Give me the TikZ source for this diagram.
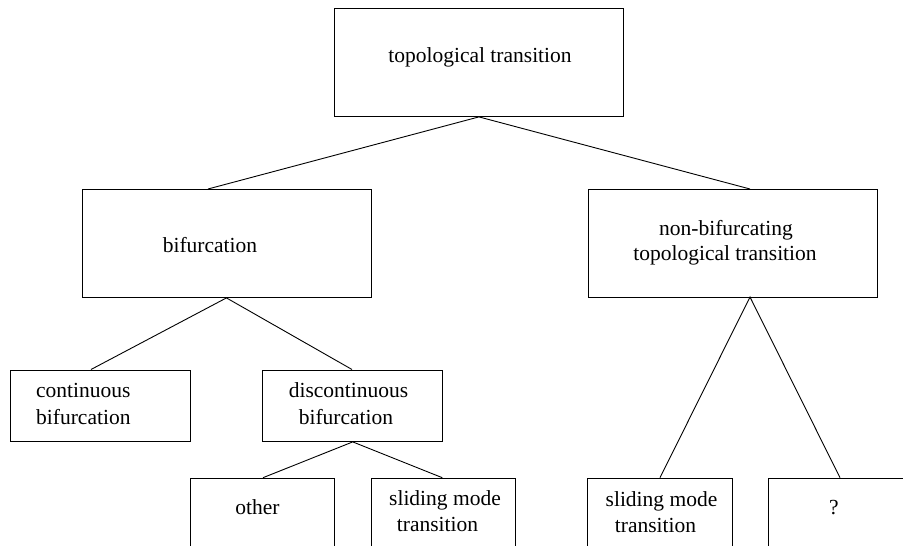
\documentclass[tikz,border=0pt]{standalone}
\usepackage{fontspec}
\setmainfont{Liberation Serif}
\begin{document}
\begin{tikzpicture}[x=1pt,y=-1pt,
  box/.style={draw=black,line width=0.9pt,rectangle,inner sep=0pt,anchor=north west},
  lbl/.style={anchor=base,inner sep=0pt,font=\fontsize{21.5}{26}\selectfont},
  link/.style={draw=black,line width=0.9pt}]
\useasboundingbox (0,0) rectangle (903,546);
\clip (0,0) rectangle (903,546);

% boxes of the classification tree
\node[box,minimum width=289pt,minimum height=108pt] (top) at (334,8) {};
\node[box,minimum width=289pt,minimum height=108pt] (bif) at (81.5,189) {};
\node[box,minimum width=289pt,minimum height=108pt] (nonbif) at (587.5,189) {};
\node[box,minimum width=180.5pt,minimum height=71.5pt] (cont) at (9.5,369.5) {};
\node[box,minimum width=180pt,minimum height=71.5pt] (disc) at (262.3,369.5) {};
\node[box,minimum width=144pt,minimum height=100pt] (other) at (190,477.7) {};
\node[box,minimum width=144.3pt,minimum height=100pt] (slideA) at (370.7,477.7) {};
\node[box,minimum width=144.4pt,minimum height=100pt] (slideB) at (587.3,477.7) {};
\node[box,minimum width=144pt,minimum height=100pt] (unknown) at (768,477.7) {};

% labels
\node[lbl] (t-top) at (480,62) {topological transition};
\node[lbl] (t-bif) at (210,252) {bifurcation};
\node[lbl] (t-nb1) at (726,235) {non-bifurcating};
\node[lbl] (t-nb2) at (725,260.5) {topological transition};
\node[lbl,anchor=base west] (t-c1) at (36,397) {continuous};
\node[lbl,anchor=base west] (t-c2) at (36,424) {bifurcation};
\node[lbl] (t-d1) at (348.5,397.5) {discontinuous};
\node[lbl] (t-d2) at (346,424) {bifurcation};
\node[lbl] (t-o) at (257.5,514) {other};
\node[lbl] (t-sa1) at (445,505) {sliding mode};
\node[lbl] (t-sa2) at (437.5,531.7) {transition};
\node[lbl] (t-sb1) at (661.5,506) {sliding mode};
\node[lbl] (t-sb2) at (655.5,532.5) {transition};
\node[lbl] (t-q) at (834,514) {?};

% attachment points of the branches
\coordinate (bif-in) at (208,189);
\coordinate (nonbif-in) at (750,189);
\coordinate (nonbif-out) at (750,297);
\coordinate (cont-in) at (91,369.5);
\coordinate (disc-in) at (352,369.5);
\coordinate (other-in) at (263,477.7);
\coordinate (slideA-in) at (442.3,477.7);
\coordinate (slideB-in) at (660,477.7);
\coordinate (unknown-in) at (840,477.7);

% branches
\draw[link] (bif-in) -- (top.south) -- (nonbif-in);
\draw[link] (cont-in) -- (bif.south) -- (disc-in);
\draw[link] (other-in) -- (disc.south) -- (slideA-in);
\draw[link] (slideB-in) -- (nonbif-out) -- (unknown-in);
\end{tikzpicture}
\end{document}
